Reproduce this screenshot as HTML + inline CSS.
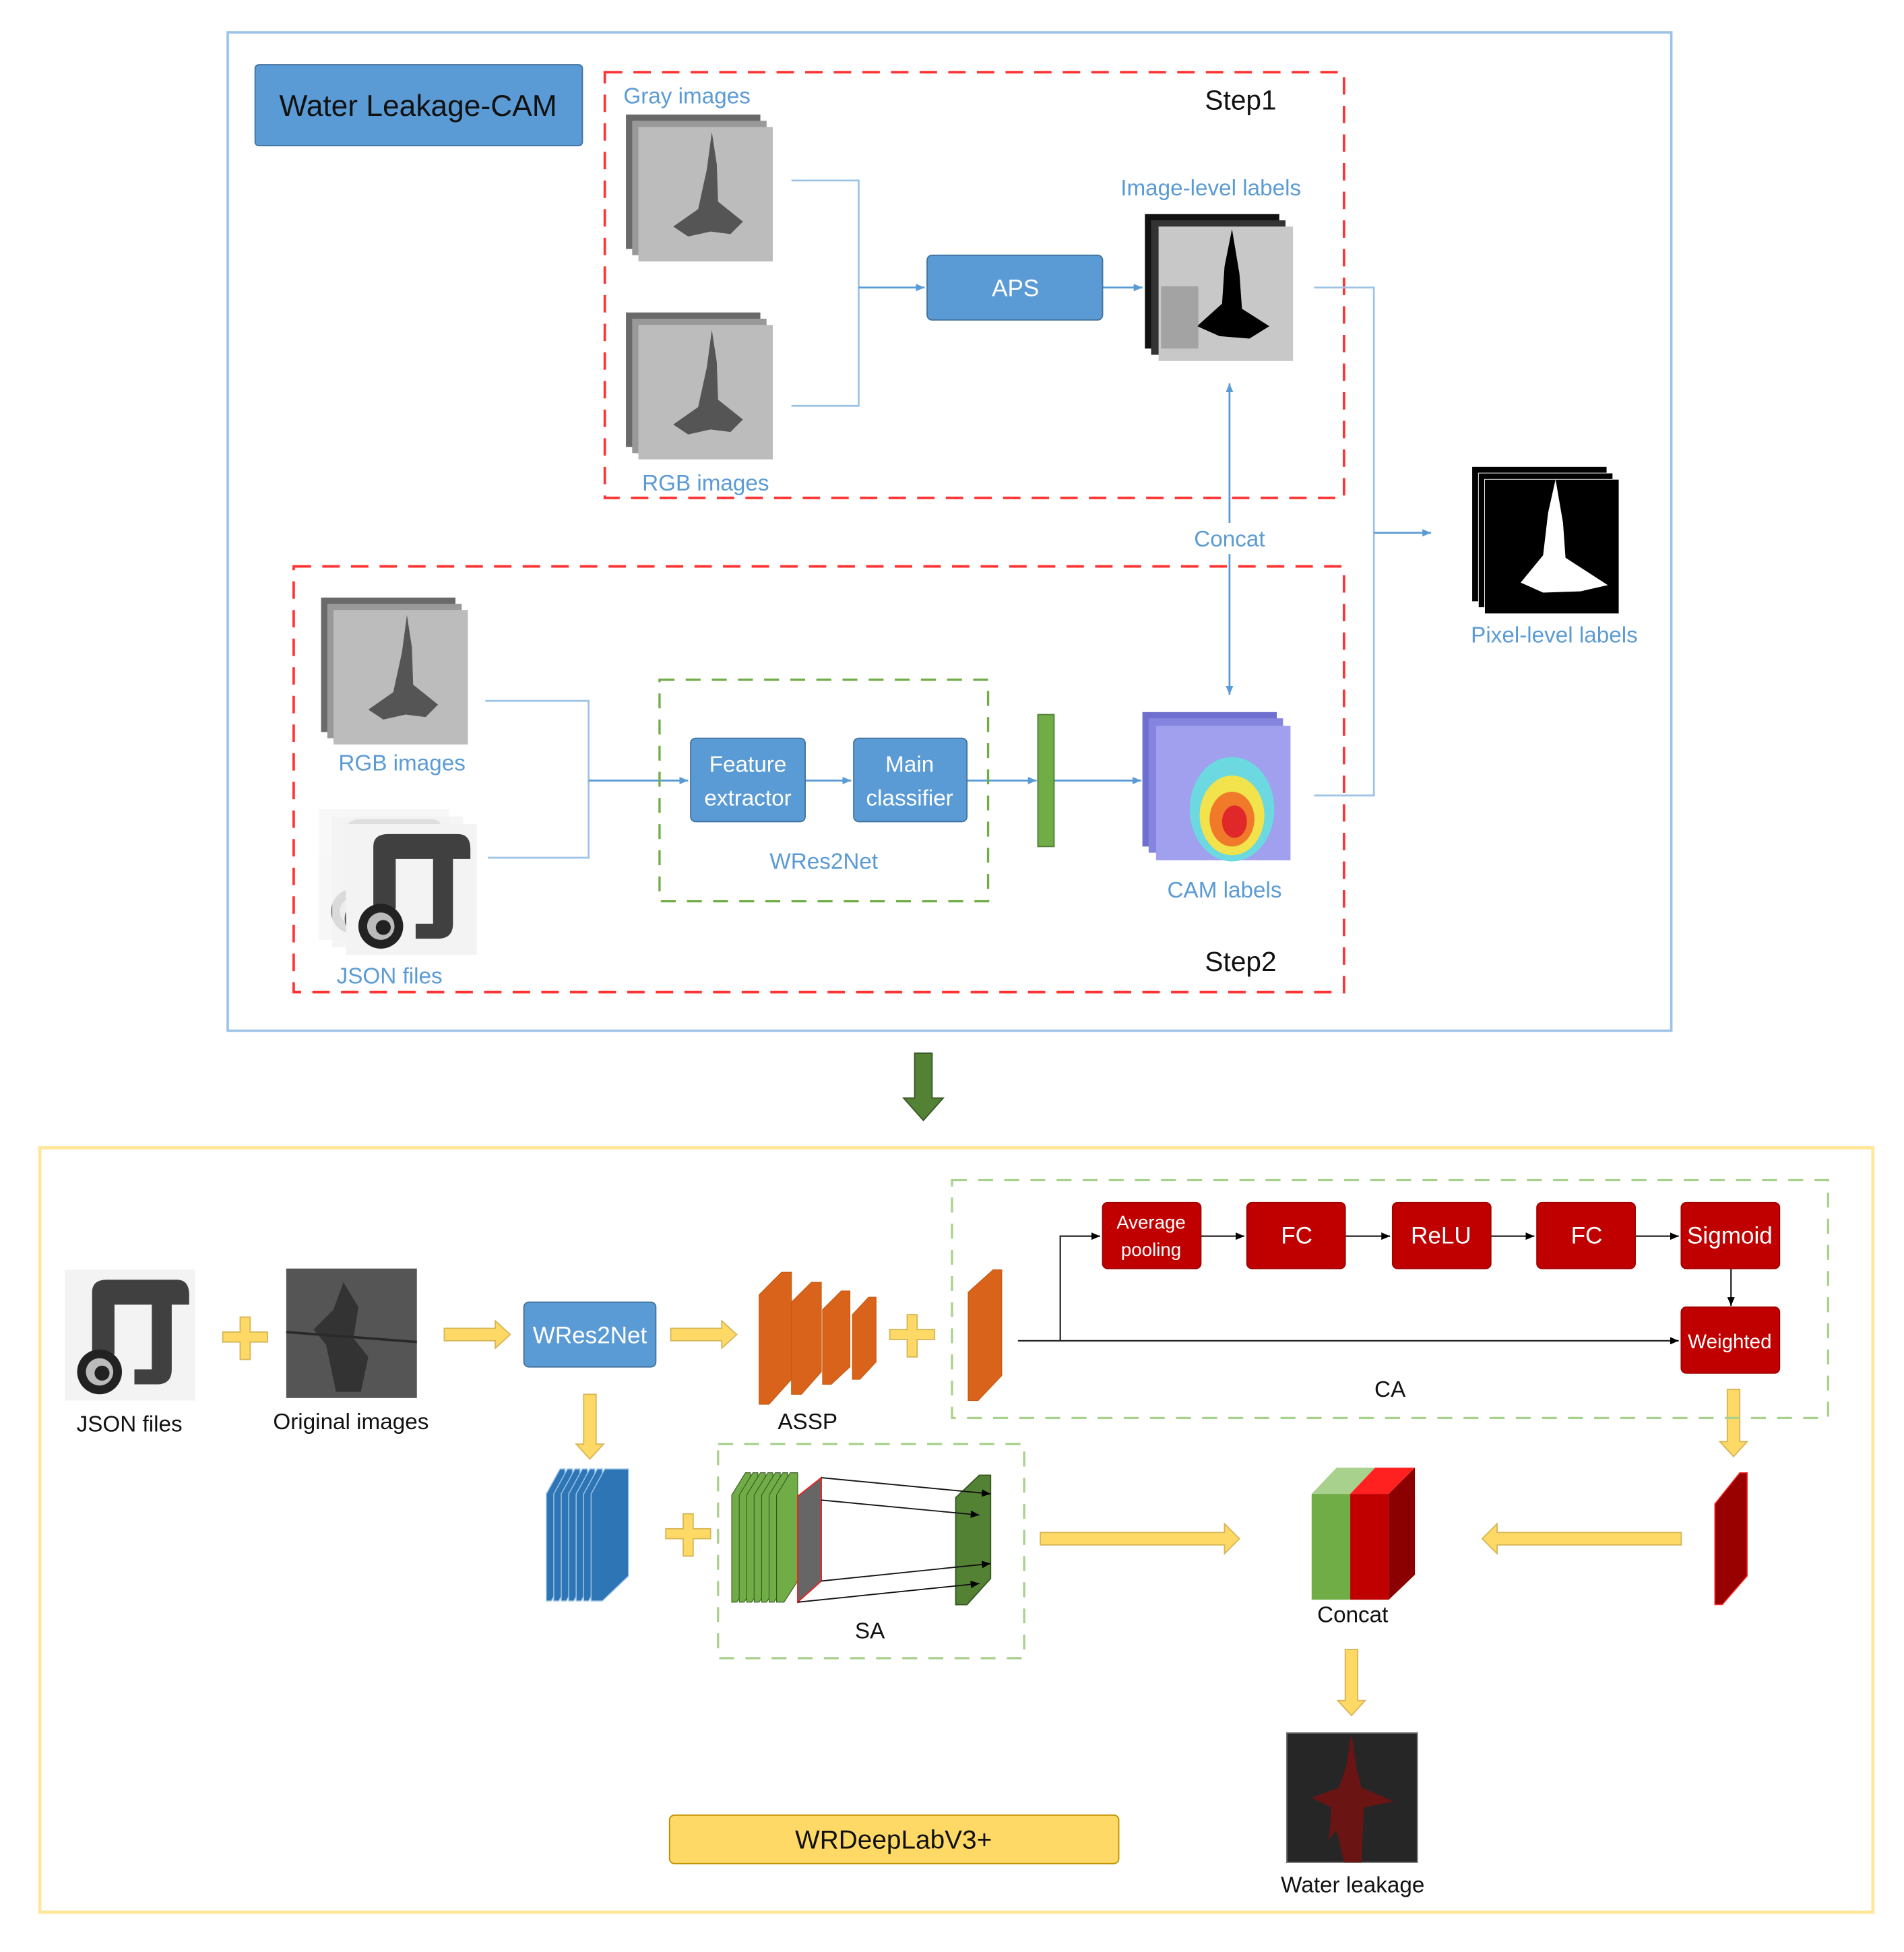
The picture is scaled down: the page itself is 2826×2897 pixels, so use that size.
<!DOCTYPE html>
<html><head><meta charset="utf-8"><style>html,body{margin:0;padding:0;background:#fff}svg{display:block}text{font-family:"Liberation Sans",sans-serif}</style></head><body>
<svg width="2826" height="2897" viewBox="0 0 1530 1568" preserveAspectRatio="none" xmlns="http://www.w3.org/2000/svg">
<defs>
<marker id="ab" markerWidth="8" markerHeight="8" refX="7" refY="4" orient="auto" markerUnits="userSpaceOnUse"><path d="M0,1 L7,4 L0,7Z" fill="#5b9bd5"/></marker>
<marker id="ak" markerWidth="8" markerHeight="8" refX="7" refY="4" orient="auto" markerUnits="userSpaceOnUse"><path d="M0,1 L7,4 L0,7Z" fill="#000"/></marker>
<g id="wall">
 <rect x="0" y="0" width="108" height="108" fill="#6a6a6a"/>
 <rect x="5" y="5" width="108" height="108" fill="#999"/>
 <rect x="10" y="10" width="108" height="108" fill="#bcbcbc"/>
 <path d="M69,14 L73,40 L74,70 L94,86 L84,96 L68,94 L50,98 L38,90 L58,76 L65,44 Z" fill="#555"/>
</g>
<g id="json">
 <rect x="0" y="0" width="105" height="105" fill="#f3f3f3"/>
 <path d="M22,68 V18 Q22,8 34,8 H90 Q100,8 100,20 V28 H86 V80 Q86,92 74,92 H56 V80 H70 V28 H40 V68 Z" fill="#404040"/>
 <circle cx="28" cy="82" r="18" fill="#222"/><circle cx="28" cy="82" r="11" fill="#bbb"/><circle cx="30" cy="83" r="6" fill="#222"/>
</g>
</defs>

<rect x="183" y="26" width="1160" height="802" fill="none" stroke="#9dc3e6" stroke-width="2"/>
<rect x="205" y="52" width="263" height="65" rx="3" fill="#5b9bd5" stroke="#41719c"/>
<text x="336" y="93" font-size="24" text-anchor="middle" fill="#111">Water Leakage-CAM</text>

<rect x="486" y="58" width="594" height="342" fill="none" stroke="#f33" stroke-width="2" stroke-dasharray="14,9"/>
<rect x="236" y="455" width="844" height="342" fill="none" stroke="#f33" stroke-width="2" stroke-dasharray="14,9"/>
<text x="997" y="88" font-size="22" text-anchor="middle" fill="#111">Step1</text>
<text x="997" y="780" font-size="22" text-anchor="middle" fill="#111">Step2</text>

<text x="501" y="83" font-size="18" fill="#5b9bd5">Gray images</text>
<use href="#wall" x="503" y="92"/>
<use href="#wall" x="503" y="251"/>
<text x="516" y="394" font-size="18" fill="#5b9bd5">RGB images</text>

<g fill="none" stroke="#9dc3e6" stroke-width="1.5">
<path d="M636,145 H690 V326 H636"/>
<path d="M690,231 H743" stroke="#5b9bd5" marker-end="url(#ab)"/>
<path d="M886,231 H918" stroke="#5b9bd5" marker-end="url(#ab)"/>
<path d="M1056,231 H1104 V639 H1056"/>
<path d="M1104,428 H1150" stroke="#5b9bd5" marker-end="url(#ab)"/>
<path d="M988,420 V308" stroke="#5b9bd5" marker-end="url(#ab)"/>
<path d="M988,445 V558" stroke="#5b9bd5" marker-end="url(#ab)"/>
<path d="M390,563 H473 V689 H392"/>
<path d="M473,627 H553" stroke="#5b9bd5" marker-end="url(#ab)"/>
<path d="M647,627 H684" stroke="#5b9bd5" marker-end="url(#ab)"/>
<path d="M777,627 H833" stroke="#5b9bd5" marker-end="url(#ab)"/>
<path d="M847,627 H917" stroke="#5b9bd5" marker-end="url(#ab)"/>
</g>

<rect x="745" y="205" width="141" height="52" rx="4" fill="#5b9bd5" stroke="#41719c"/>
<text x="816" y="238" font-size="19" text-anchor="middle" fill="#fff">APS</text>

<text x="973" y="157" font-size="18" text-anchor="middle" fill="#5b9bd5">Image-level labels</text>
<rect x="920" y="172" width="108" height="108" fill="#111"/>
<rect x="925" y="177" width="108" height="108" fill="#333"/>
<rect x="931" y="182" width="108" height="108" fill="#c8c8c8"/>
<path d="M990,184 L996,220 L998,248 L1020,262 L1004,272 L980,270 L962,262 L982,244 L984,214 Z" fill="#000"/>
<rect x="933" y="230" width="30" height="50" fill="#8a8a8a" opacity=".6"/>

<rect x="958" y="424" width="60" height="18" fill="#fff"/>
<text x="988" y="439" font-size="18" text-anchor="middle" fill="#5b9bd5">Concat</text>

<rect x="1183" y="375" width="108" height="108" fill="#000"/>
<rect x="1188" y="380" width="108" height="108" fill="#000" stroke="#fff" stroke-width=".5"/>
<rect x="1193" y="385" width="108" height="108" fill="#000" stroke="#fff" stroke-width=".5"/>
<path d="M1250,385 L1256,420 L1258,448 L1292,470 L1270,475 L1240,476 L1222,468 L1240,446 L1244,412 Z" fill="#fff"/>
<text x="1249" y="516" font-size="18" text-anchor="middle" fill="#5b9bd5">Pixel-level labels</text>

<use href="#wall" x="258" y="480"/>
<text x="323" y="619" font-size="18" text-anchor="middle" fill="#5b9bd5">RGB images</text>
<use href="#json" x="256" y="650" opacity=".6"/>
<use href="#json" x="267" y="656" opacity=".8"/>
<use href="#json" x="278" y="662"/>
<text x="313" y="790" font-size="18" text-anchor="middle" fill="#5b9bd5">JSON files</text>

<rect x="530" y="546" width="264" height="178" fill="none" stroke="#70ad47" stroke-width="1.8" stroke-dasharray="12,9"/>
<rect x="555" y="593" width="92" height="67" rx="4" fill="#5b9bd5" stroke="#41719c"/>
<text x="601" y="620" font-size="18" text-anchor="middle" fill="#fff">Feature</text>
<text x="601" y="647" font-size="18" text-anchor="middle" fill="#fff">extractor</text>
<rect x="686" y="593" width="91" height="67" rx="4" fill="#5b9bd5" stroke="#41719c"/>
<text x="731" y="620" font-size="18" text-anchor="middle" fill="#fff">Main</text>
<text x="731" y="647" font-size="18" text-anchor="middle" fill="#fff">classifier</text>
<text x="662" y="698" font-size="18" text-anchor="middle" fill="#5b9bd5">WRes2Net</text>
<rect x="834" y="574" width="13" height="106" fill="#70ad47" stroke="#507e32"/>

<rect x="918" y="572" width="108" height="108" fill="#6f6fd0"/>
<rect x="923" y="577" width="108" height="108" fill="#8585e0"/>
<rect x="929" y="583" width="108" height="108" fill="#a0a0ee"/>
<ellipse cx="990" cy="650" rx="34" ry="42" fill="#6cd8e0"/>
<ellipse cx="990" cy="655" rx="26" ry="32" fill="#f2e24c"/>
<ellipse cx="990" cy="658" rx="18" ry="22" fill="#f07a2a"/>
<ellipse cx="992" cy="660" rx="10" ry="13" fill="#e0282a"/>
<text x="984" y="721" font-size="18" text-anchor="middle" fill="#5b9bd5">CAM labels</text>

<path d="M735,846 H749 V882 H758 L742,900 L726,882 H735 Z" fill="#548235" stroke="#385723"/>

<rect x="32" y="922" width="1473" height="614" fill="none" stroke="#ffe699" stroke-width="2.5"/>

<use href="#json" x="52" y="1020"/>
<text x="104" y="1150" font-size="18" text-anchor="middle" fill="#111">JSON files</text>
<rect x="230" y="1019" width="105" height="104" fill="#555"/>
<path d="M276,1030 L288,1050 L284,1075 L296,1090 L290,1118 L270,1118 L262,1080 L252,1068 L268,1052 Z" fill="#333"/>
<line x1="230" y1="1070" x2="335" y2="1078" stroke="#2a2a2a" stroke-width="2"/>
<text x="282" y="1148" font-size="18" text-anchor="middle" fill="#111">Original images</text>

<g fill="#ffd966" stroke="#d6b656" stroke-width="1">
<path d="M193,1058 h8 v12 h14 v8 h-14 v14 h-8 v-14 h-14 v-8 h14 z"/>
<path d="M729,1056 h8 v12 h14 v8 h-14 v14 h-8 v-14 h-14 v-8 h14 z"/>
<path d="M549,1216 h8 v12 h14 v8 h-14 v14 h-8 v-14 h-14 v-8 h14 z"/>
<path d="M357,1067 H398 V1061 L410,1072 L398,1083 V1077 H357 Z"/>
<path d="M539,1067 H580 V1061 L592,1072 L580,1083 V1077 H539 Z"/>
<path d="M836,1231 H984 V1224 L996,1236 L984,1248 V1241 H836 Z"/>
<path d="M1351,1231 H1203 V1224 L1191,1236 L1203,1248 V1241 H1351 Z"/>
<path d="M469,1120 V1160 H463 L474,1172 L485,1160 H479 V1120 Z"/>
<path d="M1388,1116 V1158 H1382 L1393,1170 L1404,1158 H1398 V1116 Z"/>
<path d="M1081,1325 V1366 H1075 L1086,1378 L1097,1366 H1091 V1325 Z"/>
</g>

<rect x="421" y="1046" width="106" height="52" rx="4" fill="#5b9bd5" stroke="#41719c"/>
<text x="474" y="1079" font-size="19" text-anchor="middle" fill="#fff">WRes2Net</text>

<g stroke="#c55a11" stroke-width=".6">
<polygon points="610,1040 628,1022 636,1022 636,1108 618,1128 610,1128" fill="#d9631a"/>
<polygon points="636,1046 652,1030 660,1030 660,1102 644,1120 636,1120" fill="#d9631a"/>
<polygon points="661,1052 676,1037 683,1037 683,1098 668,1112 661,1112" fill="#d9631a"/>
<polygon points="685,1056 698,1042 704,1042 704,1094 691,1108 685,1108" fill="#d9631a"/>
<polygon points="778,1038 798,1020 805,1020 805,1105 786,1125 778,1125" fill="#d9631a"/>
</g>
<text x="649" y="1148" font-size="18" text-anchor="middle" fill="#111">ASSP</text>

<rect x="765" y="948" width="704" height="191" fill="none" stroke="#a9d18e" stroke-width="1.8" stroke-dasharray="12,9"/>
<g fill="none" stroke="#222" stroke-width="1.2">
<path d="M818,1077 H1349" marker-end="url(#ak)"/>
<path d="M852,1077 V993 H884" marker-end="url(#ak)"/>
<path d="M965,993 H1000" marker-end="url(#ak)"/>
<path d="M1081,993 H1117" marker-end="url(#ak)"/>
<path d="M1197,993 H1233" marker-end="url(#ak)"/>
<path d="M1314,993 H1349" marker-end="url(#ak)"/>
<path d="M1391,1018 V1049" marker-end="url(#ak)"/>
</g>
<g fill="#c00000" stroke="#a00000">
<rect x="886" y="966" width="79" height="53" rx="4"/>
<rect x="1002" y="966" width="79" height="53" rx="4"/>
<rect x="1119" y="966" width="79" height="53" rx="4"/>
<rect x="1235" y="966" width="79" height="53" rx="4"/>
<rect x="1351" y="966" width="79" height="53" rx="4"/>
<rect x="1351" y="1050" width="79" height="53" rx="4"/>
</g>
<g fill="#fff" text-anchor="middle">
<text x="925" y="987" font-size="15">Average</text>
<text x="925" y="1009" font-size="15">pooling</text>
<text x="1042" y="999" font-size="19">FC</text>
<text x="1158" y="999" font-size="19">ReLU</text>
<text x="1275" y="999" font-size="19">FC</text>
<text x="1390" y="999" font-size="19">Sigmoid</text>
<text x="1390" y="1083" font-size="16">Weighted</text>
</g>
<text x="1117" y="1122" font-size="18" text-anchor="middle" fill="#111">CA</text>

<g fill="#2e75b6" stroke="#9dc3e6" stroke-width=".8">
<polygon points="439,1200 450,1180 454,1180 454,1266 443,1286 439,1286"/>
<polygon points="445,1200 456,1180 460,1180 460,1266 449,1286 445,1286"/>
<polygon points="451,1200 462,1180 466,1180 466,1266 455,1286 451,1286"/>
<polygon points="457,1200 468,1180 472,1180 472,1266 461,1286 457,1286"/>
<polygon points="463,1200 474,1180 478,1180 478,1266 467,1286 463,1286"/>
<polygon points="469,1200 480,1180 484,1180 484,1266 473,1286 469,1286"/>
<polygon points="475,1200 486,1180 505,1180 505,1266 484,1286 475,1286"/>
</g>

<rect x="577" y="1160" width="246" height="172" fill="none" stroke="#a9d18e" stroke-width="1.8" stroke-dasharray="12,9"/>
<g fill="#70ad47" stroke="#385723" stroke-width=".6">
<polygon points="588,1201 599,1183 603,1183 603,1270 592,1287 588,1287"/>
<polygon points="594,1201 605,1183 609,1183 609,1270 598,1287 594,1287"/>
<polygon points="600,1201 611,1183 615,1183 615,1270 604,1287 600,1287"/>
<polygon points="606,1201 617,1183 621,1183 621,1270 610,1287 606,1287"/>
<polygon points="612,1201 623,1183 627,1183 627,1270 616,1287 612,1287"/>
<polygon points="618,1201 629,1183 633,1183 633,1270 622,1287 618,1287"/>
<polygon points="624,1201 635,1183 641,1183 641,1270 630,1287 624,1287"/>
</g>
<polygon points="641,1202 660,1187 660,1270 641,1287" fill="#666" stroke="#e22" stroke-width="1"/>
<polygon points="768,1203 787,1185 796,1185 796,1268 777,1289 768,1289" fill="#548235" stroke="#385723"/>
<g stroke="#111" stroke-width="1" fill="none">
<path d="M660,1187 L796,1200" marker-end="url(#ak)"/>
<path d="M660,1205 L787,1217" marker-end="url(#ak)"/>
<path d="M660,1270 L796,1256" marker-end="url(#ak)"/>
<path d="M641,1287 L787,1272" marker-end="url(#ak)"/>
</g>
<text x="699" y="1316" font-size="18" text-anchor="middle" fill="#111">SA</text>

<polygon points="1054,1200 1074,1179 1105,1179 1085,1200" fill="#a9d18e"/>
<polygon points="1085,1200 1105,1179 1137,1179 1116,1200" fill="#ff2020"/>
<polygon points="1116,1200 1137,1179 1137,1265 1116,1285" fill="#8b0000"/>
<rect x="1054" y="1200" width="31" height="85" fill="#70ad47"/>
<rect x="1085" y="1200" width="31" height="85" fill="#c00000"/>
<text x="1087" y="1303" font-size="18" text-anchor="middle" fill="#111">Concat</text>

<polygon points="1378,1208 1398,1183 1404,1183 1404,1266 1384,1289 1378,1289" fill="#990000" stroke="#ff3030" stroke-width=".8"/>

<rect x="1034" y="1392" width="105" height="104" fill="#262626" stroke="#777"/>
<path d="M1086,1392 L1090,1420 L1094,1436 L1120,1447 L1096,1452 L1094,1496 L1080,1496 L1074,1470 L1068,1478 L1070,1452 L1054,1444 L1076,1436 L1082,1418 Z" fill="#6a1414"/>
<text x="1087" y="1520" font-size="18" text-anchor="middle" fill="#111">Water leakage</text>

<rect x="538" y="1458" width="361" height="39" rx="4" fill="#ffd966" stroke="#bf9000"/>
<text x="718" y="1485" font-size="21" text-anchor="middle" fill="#111">WRDeepLabV3+</text>
</svg>
</body></html>
